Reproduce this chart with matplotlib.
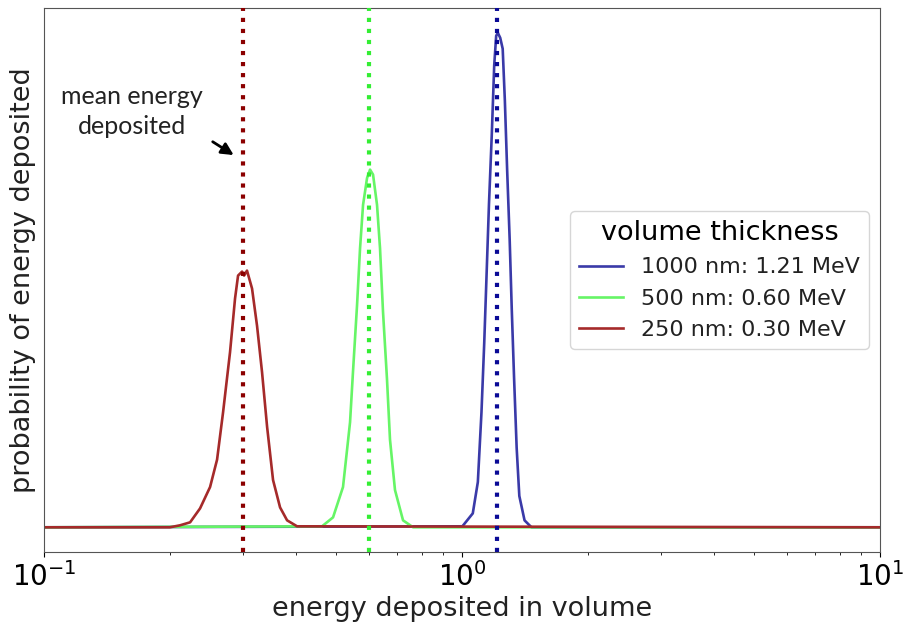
import matplotlib
matplotlib.use("Agg")
import matplotlib.pyplot as plt
import numpy as np

# energy deposited (MeV) and probability for each volume thickness
e_1000 = [0.1, 1.002, 1.061, 1.091, 1.113, 1.130, 1.145, 1.160, 1.178, 1.194, 1.207,
          1.218, 1.234, 1.251, 1.266, 1.282, 1.300, 1.315, 1.332, 1.351, 1.371,
          1.411, 1.466, 10.0]
p_1000 = [0.0, 0.002, 0.028, 0.091, 0.231, 0.370, 0.510, 0.650, 0.789, 0.929, 0.988,
          0.994, 0.984, 0.962, 0.858, 0.719, 0.579, 0.439, 0.300, 0.160, 0.063,
          0.014, 0.0, 0.0]

e_500 = [0.1, 0.4625, 0.4914, 0.5191, 0.5396, 0.5484, 0.5607, 0.5702, 0.5797, 0.5926,
         0.6025, 0.6125, 0.6261, 0.6365, 0.6471, 0.6614, 0.6725, 0.6912, 0.7225,
         0.7636, 10.0]
p_500 = [0.0, 0.002, 0.020, 0.081, 0.211, 0.312, 0.445, 0.561, 0.648, 0.702,
         0.719, 0.709, 0.648, 0.561, 0.433, 0.298, 0.176, 0.075, 0.014,
         0.0, 0.0]

e_250 = [0.1, 0.2000, 0.2115, 0.2236, 0.2362, 0.2496, 0.2594, 0.2681, 0.2786, 0.2864,
         0.2912, 0.2977, 0.3010, 0.3059, 0.3145, 0.3233, 0.3323, 0.3417, 0.3531,
         0.3670, 0.3815, 0.4030, 10.0]
p_250 = [0.0, 0.0, 0.004, 0.010, 0.038, 0.081, 0.136, 0.231, 0.352, 0.460,
         0.506, 0.514, 0.506, 0.516, 0.480, 0.405, 0.312, 0.202, 0.095,
         0.040, 0.014, 0.002, 0.0]

mean_energy = [1.21, 0.60, 0.30]
thickness = ["1000 nm", "500 nm", "250 nm"]
line_colors = ["#3a3aa8", "#66f566", "#a52a2a"]
mean_colors = ["#0a0a96", "#33ee33", "#8b0000"]

fig = plt.figure(figsize=(9.04, 6.22), dpi=100)
ax = fig.add_axes([0.0487, 0.1125, 0.9248, 0.8745])

curves = [(e_1000, p_1000), (e_500, p_500), (e_250, p_250)]
for (e, p), name, m, c in zip(curves, thickness, mean_energy, line_colors):
    ax.plot(e, p, color=c, lw=1.9, label=f"{name}: {m:.2f} MeV")

for m, c in zip(mean_energy, mean_colors):
    ax.axvline(m, color=c, ls=":", lw=3, zorder=3)

ax.set_xscale("log")
ax.set_xlim(0.1, 10)
ax.set_yticks([])
ax.tick_params(axis="x", labelsize=20)
ax.set_xlabel("energy deposited in volume", fontsize=19.5, color="#222222", labelpad=3)
ax.set_ylabel("probability of energy deposited", fontsize=19.5, color="#222222", labelpad=6)
for s in ax.spines.values():
    s.set_color("#555555")

leg = ax.legend(title="volume thickness", loc="center right", fontsize=16,
                title_fontsize=19.5, handlelength=2.0)
for t in leg.get_texts():
    t.set_color("#222222")

ax.annotate("", xy=(0.288, 0.727), xycoords=("data", "axes fraction"),
            xytext=(0.250, 0.757), textcoords=("data", "axes fraction"),
            arrowprops=dict(arrowstyle="-|>", color="black", lw=2, mutation_scale=18))
fig.text(0.146, 0.821, "mean energy\ndeposited", ha="center", va="center",
         fontsize=18, family="Lato", color="#222222", linespacing=1.35)

fig.savefig("out.png", dpi=100)
